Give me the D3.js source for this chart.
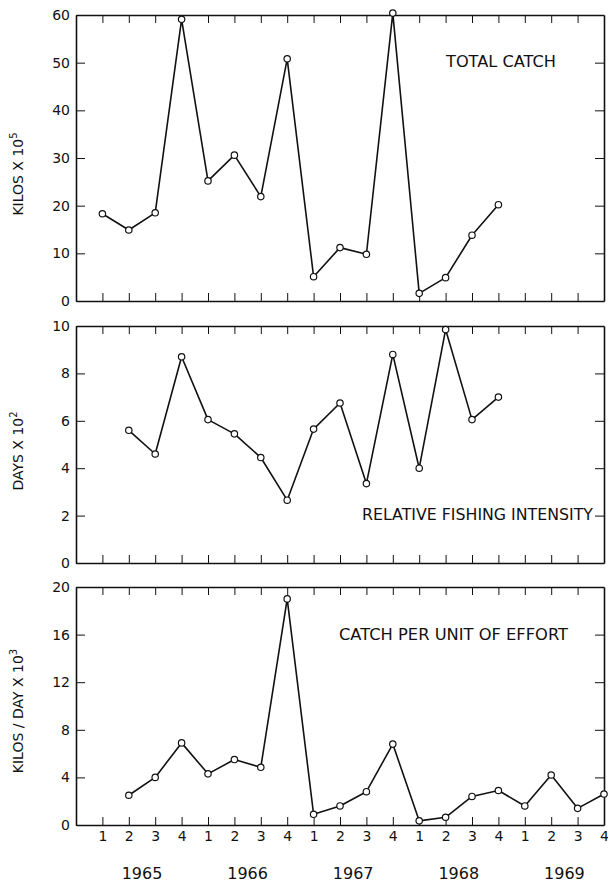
<!DOCTYPE html>
<html>
<head>
<meta charset="utf-8">
<script src="https://cdn.jsdelivr.net/npm/d3@7"></script>
<style>
  html, body { margin: 0; padding: 0; background: #fff; }
  svg { display: block; }
  text { font-family: "DejaVu Sans", "Liberation Sans", sans-serif; fill: #111; }
</style>
</head>
<body>
<svg id="chart" width="608" height="883"></svg>
<script>
// ---- Data (quarters 1965 Q1 .. 1969 Q4) ----
const years = ["1965", "1966", "1967", "1968", "1969"];
const quarterLabels = ["1", "2", "3", "4"];
const periods = years.flatMap(y => quarterLabels.map(q => y + "-" + q));

// Total catch, kilos x 10^5
const totalCatch = [18.3, 14.9, 18.5, 59.1, 25.2, 30.6, 21.9, 50.8, 5.1, 11.2, 9.8, 60.4, 1.6, 4.9, 13.8, 20.2, null, null, null, null];
// Relative fishing intensity, days x 10^2
const fishingIntensity = [null, 5.6, 4.6, 8.7, 6.05, 5.45, 4.45, 2.65, 5.65, 6.75, 3.35, 8.8, 4.0, 9.85, 6.05, 7.0, null, null, null, null];
// Catch per unit of effort, kilos/day x 10^3
const cpue = [null, 2.5, 4.0, 6.9, 4.3, 5.5, 4.85, 19.0, 0.9, 1.6, 2.8, 6.8, 0.35, 0.65, 2.4, 2.9, 1.6, 4.2, 1.4, 2.6];

const topTicks = [0, 10, 20, 30, 40, 50, 60];
const midTicks = [0, 2, 4, 6, 8, 10];
const botTicks = [0, 4, 8, 12, 16, 20];

// ---- Layout ----
const svg = d3.select("#chart");
const left = 76, right = 604;
const x = d3.scaleLinear().domain([0, periods.length]).range([left, right]);
const qIdx = d3.range(1, periods.length + 1);

const panels = [
  { values: totalCatch, top: 15, bottom: 301, max: 60, ticks: topTicks,
    ylabel: ["KILOS X 10", "5"], ylabelY: 174,
    title: "TOTAL CATCH", titleX: 446, titleY: 67, titleW: 110, labels: false },
  { values: fishingIntensity, top: 326, bottom: 563, max: 10, ticks: midTicks,
    ylabel: ["DAYS X 10", "2"], ylabelY: 451,
    title: "RELATIVE FISHING INTENSITY", titleX: 362, titleY: 520, titleW: 231, labels: false },
  { values: cpue, top: 587, bottom: 825, max: 20, ticks: botTicks,
    ylabel: ["KILOS / DAY X 10", "3"], ylabelY: 711,
    title: "CATCH PER UNIT OF EFFORT", titleX: 339, titleY: 640, titleW: 229, labels: true }
];

panels.forEach(p => {
  const y = d3.scaleLinear().domain([0, p.max]).range([p.bottom, p.top]);
  const g = svg.append("g");

  const styleAxis = sel => {
    sel.select(".domain").attr("stroke", "#111").attr("stroke-width", 1.6);
    sel.selectAll(".tick line").attr("stroke", "#111").attr("stroke-width", 1);
    sel.selectAll(".tick text").attr("fill", "#111")
      .style("font-family", '"DejaVu Sans", sans-serif');
  };

  g.append("g").attr("transform", `translate(${left},0)`)
    .call(d3.axisLeft(y).tickValues(p.ticks).tickSize(-9).tickSizeOuter(0).tickPadding(6)
      .tickFormat(d3.format("d")))
    .call(styleAxis)
    .call(s => s.selectAll(".tick text").style("font-size", "14px"));

  g.append("g").attr("transform", `translate(${right},0)`)
    .call(d3.axisRight(y).tickValues(p.ticks).tickSize(-9).tickSizeOuter(0).tickFormat(""))
    .call(styleAxis);

  g.append("g").attr("transform", `translate(0,${p.top})`)
    .call(d3.axisTop(x).tickValues(qIdx.slice(0, -1)).tickSize(-8).tickSizeOuter(0).tickFormat(""))
    .call(styleAxis);

  g.append("g").attr("transform", `translate(0,${p.bottom})`)
    .call(d3.axisBottom(x).tickValues(qIdx).tickSize(-8).tickSizeOuter(0).tickPadding(6)
      .tickFormat(p.labels ? (d => periods[d - 1].split("-")[1]) : ""))
    .call(styleAxis)
    .call(s => s.selectAll(".tick text").style("font-size", "14px"));

  const pts = p.values.map((v, i) => ({ i: i + 1, v })).filter(d => d.v !== null);
  const line = d3.line().x(d => x(d.i)).y(d => y(d.v));
  g.append("path").datum(pts)
    .attr("d", line).attr("fill", "none").attr("stroke", "#111")
    .attr("stroke-width", 1.6).attr("stroke-linejoin", "round");
  g.selectAll("circle").data(pts).join("circle")
    .attr("cx", d => x(d.i)).attr("cy", d => y(d.v)).attr("r", 3.2)
    .attr("fill", "#fff").attr("stroke", "#111").attr("stroke-width", 1.2);

  g.append("text").attr("x", p.titleX).attr("y", p.titleY)
    .attr("textLength", p.titleW).attr("lengthAdjust", "spacingAndGlyphs")
    .style("font-size", "15px").text(p.title);

  const t = g.append("text")
    .attr("transform", `translate(23,${p.ylabelY}) rotate(-90)`)
    .attr("text-anchor", "middle").style("font-size", "14px");
  t.append("tspan").text(p.ylabel[0]);
  t.append("tspan").attr("dy", -6).style("font-size", "10px").text(p.ylabel[1]);
});

svg.append("g").selectAll("text").data(years).join("text")
  .attr("x", (d, k) => (x(k * 4 + 2) + x(k * 4 + 3)) / 2)
  .attr("y", 879)
  .attr("text-anchor", "middle")
  .style("font-size", "16px")
  .text(d => d);
</script>
</body>
</html>
